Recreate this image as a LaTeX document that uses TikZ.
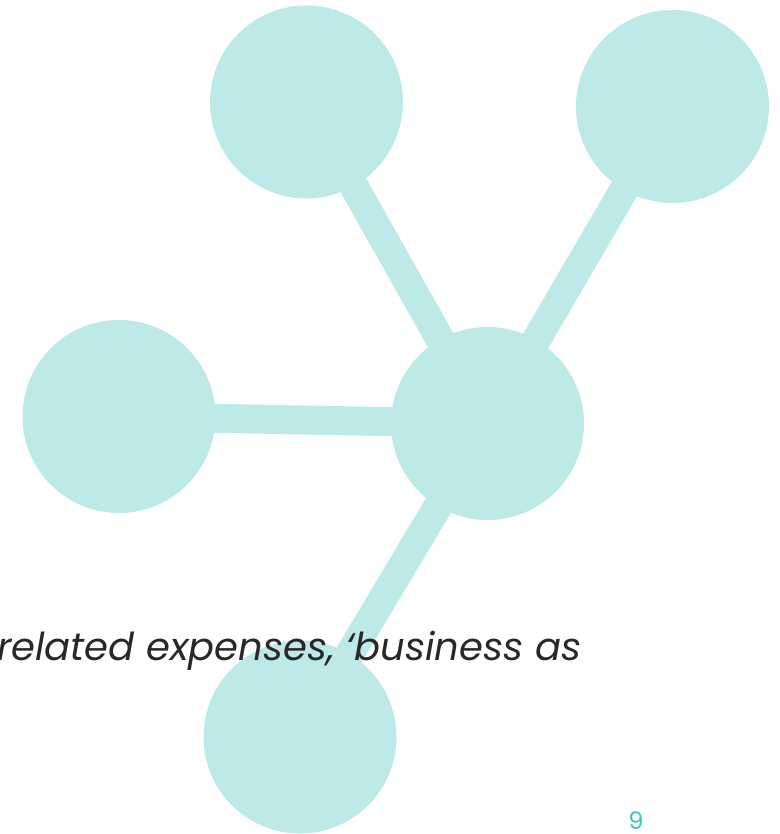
\documentclass[tikz,border=0pt]{standalone}
\usepackage{fontspec}
\setmainfont{Poppins}
\definecolor{blob}{RGB}{189,234,232}
\definecolor{ink}{RGB}{40,40,40}
\definecolor{pagenum}{RGB}{60,196,192}
\begin{document}
\begin{tikzpicture}[x=1pt,y=-1pt,
  blobnode/.style={circle,fill=blob,inner sep=0pt,minimum size=193pt},
  link/.style={draw=blob,line width=29pt}]
\useasboundingbox (0,0) rectangle (779,834);
\node[blobnode] (tl) at (306.5,102) {};
\node[blobnode] (tr) at (672.5,106.5) {};
\node[blobnode] (lf) at (119,416.5) {};
\node[blobnode] (ct) at (487.5,423.5) {};
\node[blobnode] (bt) at (300,737) {};
\draw[link] (tl.center) -- (ct.center);
\draw[link] (tr.center) -- (ct.center);
\draw[link] (lf.center) -- (ct.center);
\draw[link] (bt.center) -- (ct.center);
\node[anchor=base west, text=ink, font=\fontsize{38.5}{42}\selectfont\itshape, inner sep=0pt] (txt) at (-3,660) {related expenses, ‘business as};
\node[anchor=base, text=pagenum, font=\fontsize{24}{26}\selectfont, inner sep=0pt] (pg) at (636,829) {9};
\end{tikzpicture}
\end{document}
